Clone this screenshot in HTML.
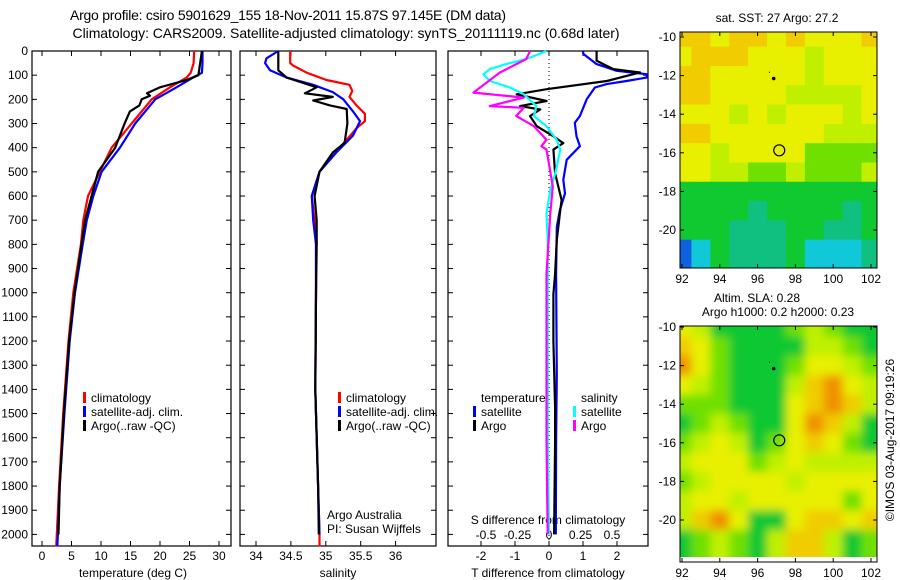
<!DOCTYPE html>
<html><head><meta charset="utf-8"><style>
body{margin:0;background:#fff;}
svg{display:block;font-family:"Liberation Sans",sans-serif;}
</style></head><body>
<svg id="c" width="900" height="580" viewBox="0 0 900 580" xmlns="http://www.w3.org/2000/svg">
<defs>
<filter id="bl" x="0" y="0" width="1" height="1"><feGaussianBlur stdDeviation="4.5"/></filter>
<clipPath id="clipB"><rect x="680" y="326" width="197" height="231"/></clipPath>
<clipPath id="clipA"><rect x="680" y="32" width="197" height="236"/></clipPath>
</defs>
<text x="288" y="20" font-size="14" text-anchor="middle" textLength="436">Argo profile: csiro 5901629_155 18-Nov-2011 15.87S 97.145E (DM data)</text>
<text x="346" y="38" font-size="14" text-anchor="middle" textLength="547">Climatology: CARS2009. Satellite-adjusted climatology: synTS_20111119.nc (0.68d later)</text>
<g id="g"></g>
</svg>
<script>
// ---------- data ----------
const tDepth = [0,50,90,110,150,200,300,400,500,600,700,800,1000,1200,1500,1800,2000,2050];
const tClim  = [25.8,25.7,25.2,24.5,21.7,18.6,15.2,11.8,9.8,7.8,7.0,6.6,5.3,4.5,3.6,2.9,2.5,2.4];
const tSat   = [27.2,27.2,27.1,25.6,22.8,19.2,15.8,13.2,10.1,8.7,7.6,6.9,5.6,4.7,3.8,3.0,2.7,2.6];
const tArgoDepth = [0,100,120,150,175,185,200,225,250,300,400,500,600,700,800,1000,1200,1500,1800,2000];
const tArgo  = [27.1,26.5,24.5,20,17.8,18.3,16.9,16.5,14.9,14,12.4,9.5,8.4,7.3,6.7,5.5,4.6,3.7,3.0,2.8];

const sClimDepth = [0,50,60,90,120,140,165,190,225,260,290,320,400,500,600,700,800,1000,1400,1800,2000,2050];
const sClim = [34.49,34.49,34.53,34.73,35.01,35.34,35.38,35.34,35.44,35.56,35.56,35.44,35.2,34.91,34.8,34.84,34.86,34.86,34.85,34.89,34.91,34.91];
const sSatDepth = [0,30,50,80,110,140,170,200,250,290,350,420,500,600,700,800,1000,1400,1800,2000];
const sSat = [34.32,34.15,34.13,34.2,34.44,34.82,35.1,35.25,35.39,35.49,35.39,35.15,34.91,34.8,34.82,34.86,34.86,34.85,34.89,34.91];
const sArgoDepth = [0,50,80,110,150,175,190,205,225,240,300,380,420,500,600,700,800,1000,1400,1800,2000];
const sArgo = [34.32,34.32,34.32,34.44,34.87,34.7,35.1,34.82,35.06,35.3,35.31,35.27,35.1,34.91,34.84,34.87,34.87,34.86,34.85,34.89,34.9];

const dTSatDepth = [0,12,54,82,96,110,124,137,151,200,269,297,353,394,450,533,589,658,728,922,1338,1617,2000];
const dTSat = [1.0,1.01,1.4,1.99,2.87,2.87,2.28,1.7,1.35,1.11,0.91,0.76,0.81,0.91,0.52,0.42,0.47,0.32,0.23,0.21,0.23,0.21,0.2];
const dTArgoDepth = [0,40,75,89,103,124,158,179,207,228,242,269,311,353,381,408,506,617,671,783,922,1006,1200,1478,1617,2000];
const dTArgo = [1.4,1.4,1.89,2.68,2.28,1.7,-0.07,-0.95,-0.07,-0.85,-0.26,-0.56,-0.36,0.13,0.42,0.13,0.18,0.37,0.32,0.23,0.18,0.13,0.13,0.18,0.18,0.15];
const dSSatDepth = [0,33,54,75,96,124,151,179,228,269,311,367,408,506,575,672,783,1200,1617,2000];
const dSSat = [-0.02,-0.18,-0.34,-0.47,-0.52,-0.47,-0.31,-0.2,-0.1,-0.12,-0.02,0.06,0.09,0.05,0.01,-0.02,-0.01,-0.01,-0.01,0.0];
const dSArgoDepth = [0,33,89,172,193,228,235,269,311,367,394,408,561,672,922,1146,1617,2000];
const dSArgo = [-0.15,-0.18,-0.39,-0.6,-0.2,-0.47,-0.2,-0.26,-0.12,-0.02,-0.06,-0.02,0.03,0.01,-0.02,-0.02,-0.02,-0.01];

const depthTicks = [0,100,200,300,400,500,600,700,800,900,1000,1100,1200,1300,1400,1500,1600,1700,1800,1900,2000];
const tTicks = [0,5,10,15,20,25,30];
const sTicks = [34,34.5,35,35.5,36];
const dTTicks = [-2,-1,0,1,2];
const dSTicks = [-0.5,-0.25,0,0.25,0.5];
const dSTickLabels = ["-0.5","-0.25","0","0.25","0.5"];
const latTicks = [-10,-12,-14,-16,-18,-20];
const lonTicks = [92,94,96,98,100,102];

// map grids: rows lat -10..-21, cols lon 92..102 (colour index 0..8)
const sstGrid = [
[7,7,6,7,7,6,7,6,6,6,7],
[6,7,7,7,6,6,6,5,6,6,6],
[7,7,6,6,6,6,6,5,6,6,6],
[7,7,6,6,6,6,5,5,5,5,6],
[6,6,6,5,6,5,6,6,6,5,6],
[7,7,6,6,6,6,6,6,5,5,5],
[6,6,5,6,6,6,6,4,4,4,4],
[6,6,5,5,4,4,5,4,4,4,5],
[3,3,3,3,3,3,3,3,3,3,3],
[3,3,3,3,2,3,3,3,3,2,3],
[3,3,3,2,2,2,3,3,2,2,3],
[0,1,3,2,2,2,3,1,1,1,2]];
const slaGrid = [
[6,5,3,3,3,3,4,5,4,3,3],
[7,6,4,3,3,3,3,5,5,4,3],
[8,6,4,3,3,3,4,6,6,5,4],
[6,5,4,3,3,3,5,7,8,6,5],
[4,4,4,3,3,3,6,7,8,7,5],
[3,4,5,4,3,3,6,8,7,5,3],
[4,5,6,5,3,4,6,7,6,4,3],
[5,6,6,6,4,5,6,5,5,5,5],
[4,5,6,6,6,6,5,6,6,6,6],
[5,6,6,5,6,6,6,6,6,4,6],
[5,7,8,6,3,3,6,7,7,6,7],
[3,4,5,4,3,5,7,7,5,3,4]];
const cmap = ["#1060e0","#10c8d8","#10c080","#10c830","#70e000","#c0f000","#e8f000","#f0cc00","#f09000"];
const argoLon = 96.85, argoLat = -12.15, profLon = 97.145, profLat = -15.87;

// ---------- helpers ----------
const NS = "http://www.w3.org/2000/svg";
const G = document.getElementById('g');
function mk(tag, attrs, parent) {
  const e = document.createElementNS(NS, tag);
  for (const k in attrs) e.setAttribute(k, attrs[k]);
  (parent || G).appendChild(e);
  return e;
}
const TOP = 51, BOT = 546;
const yD = d => TOP + d * 0.2417;
const xT = v => 42 + v * 5.9;
const xS = v => 256 + (v - 34) * 69.8;
const xDT = v => 549 + v * 34;
const xDS = v => 549 + v * 126;

function line(depths, vals, fx, color, name) {
  const pts = depths.map((d, i) => fx(vals[i]).toFixed(1) + ',' + yD(d).toFixed(1)).join(' ');
  const p = mk('polyline', {points: pts, fill: 'none', stroke: color, 'stroke-width': 2.2, 'stroke-linejoin': 'round'});
  
  
}
function panel(x0, x1, name) {
  const r = mk('rect', {x: x0, y: TOP, width: x1 - x0, height: BOT - TOP, fill: 'none', stroke: '#000', 'stroke-width': 1.2});
  
  
  depthTicks.forEach(d => {
    mk('line', {x1: x0, x2: x0 + 5, y1: yD(d), y2: yD(d), stroke: '#000'});
    mk('line', {x1: x1, x2: x1 - 5, y1: yD(d), y2: yD(d), stroke: '#000'});
  });
}
function xticks(ticks, labels, fx, ylab, top, bottom, name) {
  ticks.forEach((t, i) => {
    if (bottom) mk('line', {x1: fx(t), x2: fx(t), y1: BOT, y2: BOT - 5, stroke: '#000'});
    if (top) mk('line', {x1: fx(t), x2: fx(t), y1: TOP, y2: TOP + 5, stroke: '#000'});
    const tx = mk('text', {x: fx(t), y: ylab, 'font-size': 12, 'text-anchor': 'middle'});
    tx.textContent = labels[i];
    
    
  });
}
function txt(x, y, s, name, size, anchor) {
  const t = mk('text', {x: x, y: y, 'font-size': size || 12, 'text-anchor': anchor || 'start'});
  t.textContent = s;
  
  
  return t;
}
function legend(x, y, color, label, name) {
  const b = mk('rect', {x: x, y: y - 10, width: 3, height: 11, fill: color});
  
  
  txt(x + 8, y, label, name);
}

// ---------- panel 1: temperature ----------
panel(32, 231, 'temperature-panel');
depthTicks.forEach(d => txt(28, yD(d) + 4, String(d), 'depth-tick-label', 12, 'end'));
xticks(tTicks, tTicks.map(String), xT, 560, true, true, 'temperature-tick-label');
txt(133, 577, 'temperature (deg C)', 'temperature-axis-title', 12, 'middle');
line(tDepth, tClim, xT, '#ff0000', 'temp-climatology-line');
line(tDepth, tSat, xT, '#0000ff', 'temp-satellite-line');
line(tArgoDepth, tArgo, xT, '#000000', 'temp-argo-line');
legend(83, 402, '#ff0000', 'climatology', 'legend-climatology');
legend(83, 416, '#0000ff', 'satellite-adj. clim.', 'legend-satellite');
legend(83, 430, '#000000', 'Argo(..raw -QC)', 'legend-argo');

// ---------- panel 2: salinity ----------
panel(240, 436, 'salinity-panel');
xticks(sTicks, sTicks.map(String), xS, 560, true, true, 'salinity-tick-label');
txt(338, 577, 'salinity', 'salinity-axis-title', 12, 'middle');
line(sClimDepth, sClim, xS, '#ff0000', 'sal-climatology-line');
line(sSatDepth, sSat, xS, '#0000ff', 'sal-satellite-line');
line(sArgoDepth, sArgo, xS, '#000000', 'sal-argo-line');
legend(338, 402, '#ff0000', 'climatology', 'legend-climatology');
legend(338, 416, '#0000ff', 'satellite-adj. clim.', 'legend-satellite');
legend(338, 430, '#000000', 'Argo(..raw -QC)', 'legend-argo');
txt(327, 519, 'Argo Australia', 'credit-argo-australia');
txt(327, 533, 'PI: Susan Wijffels', 'credit-pi');

// ---------- panel 3: differences ----------
panel(448, 648, 'difference-panel');
mk('line', {x1: 549, x2: 549, y1: TOP, y2: BOT, stroke: '#000', 'stroke-dasharray': '1,3'});
xticks(dTTicks, dTTicks.map(String), xDT, 560, true, true, 'tdiff-tick-label');
xticks(dSTicks, dSTickLabels, xDS, 539, false, false, 'sdiff-tick-label');
txt(548, 524, 'S difference from climatology', 'sdiff-axis-title', 12, 'middle');
txt(548, 577, 'T difference from climatology', 'tdiff-axis-title', 12, 'middle');
line(dTSatDepth, dTSat, xDT, '#0000ff', 'tdiff-satellite-line');
line(dTArgoDepth, dTArgo, xDT, '#000000', 'tdiff-argo-line');
line(dSSatDepth, dSSat, xDS, '#00ffff', 'sdiff-satellite-line');
line(dSArgoDepth, dSArgo, xDS, '#ff00ff', 'sdiff-argo-line');
txt(481, 402, 'temperature', 'legend-temperature-header');
legend(473, 416, '#0000ff', 'satellite', 'legend-t-satellite');
legend(473, 430, '#000000', 'Argo', 'legend-t-argo');
txt(581, 402, 'salinity', 'legend-salinity-header');
legend(573, 416, '#00ffff', 'satellite', 'legend-s-satellite');
legend(573, 430, '#ff00ff', 'Argo', 'legend-s-argo');

// ---------- maps ----------
const MX0 = 680, MX1 = 877;
const xLon = v => 682 + (v - 92) * 18.9;
function drawMap(top, grid, clip, blur, name, latTop) {
  const yLat = v => latTop + (-10 - v) * 19.3;
  const bottom = top + 236;
  const g = mk('g', {'clip-path': 'url(#' + clip + ')'});
  
  
  const inner = blur ? mk('g', {filter: 'url(#bl)'}, g) : g;
  if (blur) mk('rect', {x: MX0 - 20, y: top - 20, width: 240, height: 280, fill: cmap[5]}, inner);
  grid.forEach((row, r) => row.forEach((v, c) => {
    const x0 = xLon(91.5 + c - (c === 0 ? 1 : 0)), x1 = xLon(92.5 + c + (c === row.length - 1 ? 1 : 0));
    const y0 = yLat(-9.5 - r + (r === 0 ? 1 : 0)), y1 = yLat(-10.5 - r - (r === grid.length - 1 ? 1 : 0));
    const cell = mk('rect', {x: x0, y: y0, width: x1 - x0 + 0.5, height: y1 - y0 + 0.5, fill: cmap[v]}, inner);
    
    
  }));
  const fr = mk('rect', {x: MX0, y: top, width: MX1 - MX0, height: bottom - top, fill: 'none', stroke: '#000'});
  
  
  latTicks.forEach(l => {
    mk('line', {x1: MX0, x2: MX0 + 4, y1: yLat(l), y2: yLat(l), stroke: '#000'});
    mk('line', {x1: MX1, x2: MX1 - 4, y1: yLat(l), y2: yLat(l), stroke: '#000'});
    txt(676, yLat(l) + 4, String(l), name + '-lat-label', 12, 'end');
  });
  lonTicks.forEach(l => {
    mk('line', {x1: xLon(l), x2: xLon(l), y1: top, y2: top + 4, stroke: '#000'});
    mk('line', {x1: xLon(l), x2: xLon(l), y1: bottom, y2: bottom - 4, stroke: '#000'});
    txt(xLon(l), bottom + 15, String(l), name + '-lon-label', 12, 'middle');
  });
  const d1 = mk('circle', {cx: xLon(argoLon), cy: yLat(argoLat), r: 1.8, fill: '#000'});
  
  
  mk('rect', {x: xLon(96.6), y: yLat(-11.8), width: 1, height: 1, fill: '#000'});
  const c = mk('circle', {cx: xLon(profLon), cy: yLat(profLat), r: 5.5, fill: 'none', stroke: '#000', 'stroke-width': 1.2});
  
  
}
drawMap(32, sstGrid, 'clipA', false, 'sst-map', 37);
drawMap(326, slaGrid, 'clipB', true, 'sla-map', 327);
txt(777, 22, 'sat. SST: 27 Argo: 27.2', 'sst-map-title', 12, 'middle');
txt(757, 302, 'Altim. SLA: 0.28', 'sla-map-title', 12, 'middle');
txt(778, 316, 'Argo h1000: 0.2 h2000: 0.23', 'sla-map-subtitle', 12, 'middle');
const cp = txt(0, 0, '©IMOS 03-Aug-2017 09:19:26', 'copyright-timestamp', 12, 'middle');
cp.setAttribute('transform', 'translate(894,440) rotate(-90)');
</script>
</body></html>
